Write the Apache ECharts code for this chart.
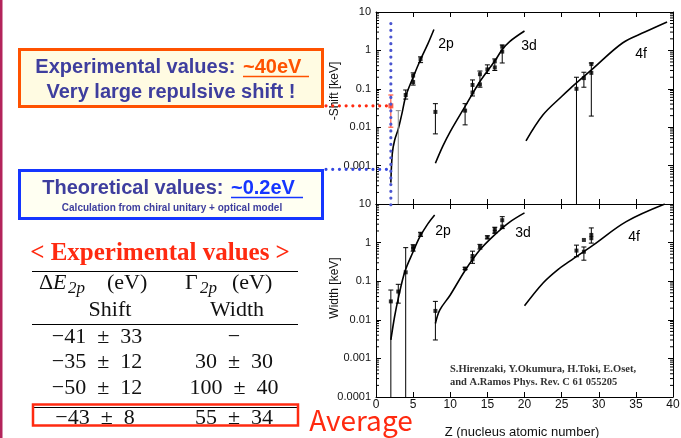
<!DOCTYPE html>
<html><head><meta charset="utf-8">
<script src="https://cdn.jsdelivr.net/npm/echarts@6/dist/echarts.min.js"></script>
<style>html,body{margin:0;padding:0;background:#fff}#c{width:681px;height:438px}</style>
</head><body><div id="c"></div>
<script>
// ---------------- data ----------------
const yTickLabels = ['0.0001', '0.001', '0.01', '0.1', '1', '10'];
const minorMult = [2, 3, 4, 5, 6, 7, 8, 9];
const minorDecades = [0.0001, 0.001, 0.01, 0.1, 1];

// Shift (upper panel): theory curves
const shift2pZ = [2, 2.2, 2.5, 3, 3.5, 4, 5, 6, 7, 7.8];
const shift2pV = [0.00036, 0.0021, 0.0045, 0.009, 0.023, 0.063, 0.2, 0.58, 1.5, 3.5];
const shift3dZ = [8, 9, 10, 12, 14, 16, 17, 18, 20];
const shift3dV = [0.00115, 0.0032, 0.0077, 0.035, 0.155, 0.53, 1.05, 1.7, 3.2];
const shift4fZ = [20.2, 22.5, 25, 26.1, 29.1, 33.2, 36.2, 39.2];
const shift4fV = [0.0044, 0.021, 0.063, 0.1, 0.32, 1.56, 3.0, 5.5];
// Shift data points [Z, value]
const shiftPts = [[4, 0.069], [5, 0.22], [5, 0.15], [6, 0.59], [8, 0.025],
  [12, 0.027], [13, 0.126], [13, 0.08], [14, 0.24], [14, 0.13], [15, 0.32], [16, 0.52], [16, 0.36], [17, 1.25], [17, 0.93],
  [27, 0.1], [28, 0.19], [29, 0.44], [29, 0.26]];
// Shift error bars [Z, low, high]  (low below axis = runs off the bottom)
const shiftErr = [[4, 0.054, 0.093], [5, 0.125, 0.26], [6, 0.48, 0.68], [8, 0.0067, 0.041],
  [12, 0.0115, 0.041], [13, 0.065, 0.17], [14, 0.11, 0.29], [15, 0.25, 0.42], [16, 0.3, 0.6], [17, 0.47, 1.38],
  [27, 0.00001, 0.2], [28, 0.11, 0.27], [29, 0.0195, 0.47]];
const shiftErrGray = [[3, 0.00001, 0.027]];
// highlighted experimental kaonic helium point
const expPt = [[2, 0.036]];
const expErr = [[2, 0.01, 0.069]];
const theoryShift = 0.0008;

// Width (lower panel)
const width2pZ = [2, 2.5, 3, 3.9, 5, 5.9, 7, 7.9];
const width2pV = [0.003, 0.012, 0.036, 0.18, 0.58, 1.4, 3.1, 5.2];
const width3dZ = [8, 8.6, 10, 12, 14, 16, 18, 20];
const width3dV = [0.008, 0.018, 0.044, 0.19, 0.65, 1.6, 3.4, 5.9];
const width4fZ = [20, 22.5, 24.5, 26.1, 29.2, 33.7, 38.9];
const width4fV = [0.023, 0.09, 0.2, 0.33, 0.85, 3.5, 10];
const widthPts = [[2, 0.03], [3, 0.054], [4, 0.17], [5, 0.78], [5, 0.68], [6, 1.64],
  [8, 0.017], [12, 0.21], [13, 0.45], [13, 0.37], [14, 0.78], [15, 1.37], [16, 2.25], [16, 1.9], [17, 3.8], [17, 2.6],
  [27, 0.62], [28, 1.17], [28, 0.58], [29, 1.58], [29, 1.3]];
const widthErr = [[2, 0.00001, 0.059], [3, 0.027, 0.083], [4, 0.00001, 0.74], [5, 0.6, 0.88], [6, 1.45, 1.85],
  [8, 0.003, 0.03], [12, 0.2, 0.23], [13, 0.29, 0.6], [14, 0.68, 0.9], [15, 1.25, 1.5], [16, 1.75, 2.5], [17, 2.3, 4.7],
  [27, 0.43, 0.86], [28, 0.35, 0.77], [29, 0.97, 2.4]];

// table
const tableTitle = '< Experimental values >';
const tableRows = [['\u221241\u2002\u00b1\u200233', '\u2212'], ['\u221235\u2002\u00b1\u200212', '30\u2002\u00b1\u200230'], ['\u221250\u2002\u00b1\u200212', '100\u2002\u00b1\u200240']];
const tableAvg = ['\u221243\u2002\u00b1\u20028', '55\u2002\u00b1\u200234'];

// ---------------- chart ----------------
const chart = echarts.init(document.getElementById('c'));
const pair = (zs, vs) => zs.map((z, i) => [z, vs[i]]);
const minorData = [];
minorDecades.forEach(d => minorMult.forEach(m => minorData.push([0, d * m])));

const AX = '#000';
function xAx(gi, pos, lab) {
  return { type: 'value', gridIndex: gi, position: pos, min: 0, max: 40, interval: 5,
    axisLine: { show: true, onZero: false, lineStyle: { color: AX, width: 1 } },
    axisTick: { show: true, inside: true, length: 5, lineStyle: { color: AX } },
    axisLabel: { show: lab, color: '#111', fontSize: 12, fontFamily: 'Liberation Sans, Arial', margin: 2, showMinLabel: true, showMaxLabel: true },
    splitLine: { show: false } };
}
function yAx(gi, pos, lab, hideMin) {
  return { type: 'log', logBase: 10, gridIndex: gi, position: pos, min: 0.0001, max: 10, splitNumber: 5,
    axisLine: { show: true, onZero: false, lineStyle: { color: AX, width: 1 } },
    axisTick: { show: true, inside: true, length: 5, lineStyle: { color: AX } },
    axisLabel: { show: lab, color: '#111', fontSize: 11, fontFamily: 'Liberation Sans, Arial', margin: 5, showMinLabel: true, showMaxLabel: true,
      formatter: v => { const e = Math.round(Math.log10(v)); if (hideMin && e === -4) return ''; return yTickLabels[e + 4]; } },
    splitLine: { show: false } };
}
function errRender(color) {
  return function (params, api) {
    const cs = params.coordSys;
    const z = api.value(0), lo = api.value(1), hi = api.value(2);
    const pH = api.coord([z, hi]), pL = api.coord([z, lo]);
    const top = cs.y, bot = cs.y + cs.height;
    const x = pH[0];
    const st = { stroke: color, lineWidth: 1 };
    const ch = [{ type: 'line', shape: { x1: x, y1: Math.max(top, pH[1]), x2: x, y2: Math.min(bot, pL[1]) }, style: st }];
    if (pH[1] >= top) ch.push({ type: 'line', shape: { x1: x - 2.5, y1: pH[1], x2: x + 2.5, y2: pH[1] }, style: st });
    if (pL[1] <= bot) ch.push({ type: 'line', shape: { x1: x - 2.5, y1: pL[1], x2: x + 2.5, y2: pL[1] }, style: st });
    return { type: 'group', children: ch };
  };
}
function minorRender(params, api) {
  const cs = params.coordSys;
  const p = api.coord([0, api.value(1)]);
  const st = { stroke: '#000', lineWidth: 1 };
  return { type: 'group', children: [
    { type: 'line', shape: { x1: cs.x, y1: p[1], x2: cs.x + 3, y2: p[1] }, style: st },
    { type: 'line', shape: { x1: cs.x + cs.width - 3, y1: p[1], x2: cs.x + cs.width, y2: p[1] }, style: st }] };
}
function curve(gi, zs, vs) {
  return { type: 'line', xAxisIndex: gi * 2, yAxisIndex: gi * 2, data: pair(zs, vs), smooth: 0.35, showSymbol: false,
    lineStyle: { color: '#000', width: 1.6 }, silent: true, animation: false, z: 3 };
}
function pts(gi, data, color, size) {
  return { type: 'scatter', xAxisIndex: gi * 2, yAxisIndex: gi * 2, data: data, symbol: 'rect', symbolSize: size,
    itemStyle: { color: color }, animation: false, z: 4 };
}
function errs(gi, data, color) {
  return { type: 'custom', xAxisIndex: gi * 2, yAxisIndex: gi * 2, data: data, renderItem: errRender(color), animation: false, z: 4 };
}
function minors(gi) {
  return { type: 'custom', xAxisIndex: gi * 2, yAxisIndex: gi * 2, data: minorData, renderItem: minorRender, animation: false, silent: true };
}

const PURP = '#3e3e9e', ORG = '#ff5200', BLU = '#1536ff', RED = '#ff2a10';
const sans = 'Liberation Sans, Arial, sans-serif';
const serif = 'Liberation Serif, Times New Roman, serif';
function txt(x, y, text, font, fill, align, extra) {
  return Object.assign({ type: 'text', x: x, y: y, silent: true,
    style: { text: text, font: font, fill: fill, align: align || 'center', verticalAlign: 'middle' } }, extra || {});
}
function hline(x1, x2, y, color, w) {
  return { type: 'line', silent: true, shape: { x1: x1, y1: y, x2: x2, y2: y }, style: { stroke: color, lineWidth: w || 1 } };
}

const graphics = [
  { type: 'rect', silent: true, shape: { x: 0, y: 0, width: 2.5, height: 438 }, style: { fill: '#b3245b' } },
  // orange box
  { type: 'rect', silent: true, shape: { x: 19.5, y: 49.5, width: 303, height: 57 }, style: { fill: '#fffbe2', stroke: ORG, lineWidth: 3 } },
  txt(241, 67, 'Experimental values: ', 'bold 20px ' + sans, PURP, 'right'),
  txt(243, 67, '~40eV', 'bold 20px ' + sans, ORG, 'left'),
  hline(243, 309, 76.5, ORG, 1.5),
  txt(171, 92, 'Very large repulsive shift !', 'bold 20px ' + sans, PURP),
  // blue box
  { type: 'rect', silent: true, shape: { x: 19.5, y: 170.5, width: 303, height: 48 }, style: { fill: '#fffff2', stroke: BLU, lineWidth: 3 } },
  txt(229, 188, 'Theoretical values: ', 'bold 20px ' + sans, PURP, 'right'),
  txt(231, 188, '~0.2eV', 'bold 20px ' + sans, BLU, 'left'),
  hline(231, 303, 197.5, BLU, 1.5),
  txt(172, 208, 'Calculation from chiral unitary + optical model', 'bold 10px ' + sans, PURP),
  // table
  txt(160, 254, tableTitle, 'bold 25px ' + serif, RED),
  hline(32, 298, 271.5, '#000', 1),
  txt(39, 283, '\u0394', '22px ' + serif, '#111', 'left'),
  txt(53, 283, 'E', 'italic 22px ' + serif, '#111', 'left'),
  txt(68, 289, '2p', 'italic 17px ' + serif, '#111', 'left'),
  txt(107, 283, '(eV)', '22px ' + serif, '#111', 'left'),
  txt(185, 283, '\u0393', '22px ' + serif, '#111', 'left'),
  txt(200, 289, '2p', 'italic 17px ' + serif, '#111', 'left'),
  txt(232, 283, '(eV)', '22px ' + serif, '#111', 'left'),
  txt(110, 310, 'Shift', '22px ' + serif, '#111'),
  txt(237, 310, 'Width', '22px ' + serif, '#111'),
  hline(32, 298, 324.5, '#000', 1),
  txt(97, 337, tableRows[0][0], '22px ' + serif, '#111'),
  txt(234, 337, tableRows[0][1], '22px ' + serif, '#111'),
  txt(97, 362, tableRows[1][0], '22px ' + serif, '#111'),
  txt(234, 362, tableRows[1][1], '22px ' + serif, '#111'),
  txt(97, 388, tableRows[2][0], '22px ' + serif, '#111'),
  txt(234, 388, tableRows[2][1], '22px ' + serif, '#111'),
  hline(34, 297, 407.5, '#000', 1),
  { type: 'rect', silent: true, shape: { x: 33, y: 404.5, width: 265, height: 21 }, style: { fill: null, stroke: RED, lineWidth: 2.5 } },
  txt(95, 418, tableAvg[0], '22px ' + serif, '#111'),
  txt(234, 418, tableAvg[1], '22px ' + serif, '#111'),
  txt(361, 420, 'Average', '28px "Noto Sans CJK JP", "Noto Sans", sans-serif', RED),
  // axis names
  txt(335, 91, '-Shift [keV]', '12px ' + sans, '#111', 'center', { rotation: Math.PI / 2 }),
  txt(335, 288, 'Width [keV]', '12px ' + sans, '#111', 'center', { rotation: Math.PI / 2 }),
  txt(522, 432, 'Z (nucleus atomic number)', '13px ' + sans, '#111'),
  // curve labels
  txt(446, 44, '2p', '14px ' + sans, '#000'),
  txt(529, 46, '3d', '14px ' + sans, '#000'),
  txt(641, 54, '4f', '14px ' + sans, '#000'),
  txt(443, 231, '2p', '14px ' + sans, '#000'),
  txt(523, 233, '3d', '14px ' + sans, '#000'),
  txt(634, 237, '4f', '14px ' + sans, '#000'),
  // reference
  txt(450, 369, 'S.Hirenzaki, Y.Okumura, H.Toki, E.Oset,', 'bold 10.5px ' + serif, '#333', 'left'),
  txt(450, 382, 'and A.Ramos Phys. Rev. C 61 055205', 'bold 10.5px ' + serif, '#333', 'left')
];

const option = {
  backgroundColor: '#fff',
  animation: false,
  grid: [
    { left: 376, top: 12, width: 297, height: 192, show: false, containLabel: false, outerBoundsMode: 'none' },
    { left: 376, top: 204, width: 297, height: 193, show: false, containLabel: false, outerBoundsMode: 'none' }
  ],
  xAxis: [xAx(0, 'bottom', false), xAx(0, 'top', false), xAx(1, 'bottom', true), xAx(1, 'top', false)],
  yAxis: [yAx(0, 'left', true, true), yAx(0, 'right', false, false), yAx(1, 'left', true, false), yAx(1, 'right', false, false)],
  series: [
    minors(0), minors(1),
    curve(0, shift2pZ, shift2pV), curve(0, shift3dZ, shift3dV), curve(0, shift4fZ, shift4fV),
    errs(0, shiftErr, '#000'), errs(0, shiftErrGray, '#8a8a8a'), pts(0, shiftPts, '#000', 4),
    errs(0, expErr, '#ff3b1f'), pts(0, expPt, '#ff3b1f', 5),
    curve(1, width2pZ, width2pV), curve(1, width3dZ, width3dV), curve(1, width4fZ, width4fV),
    errs(1, widthErr, '#000'), pts(1, widthPts, '#000', 4)
  ],
  graphic: graphics
};
chart.setOption(option);

// dotted guide lines anchored to data
const pExp = chart.convertToPixel({ gridIndex: 0 }, expPt[0]);
const pTh = chart.convertToPixel({ gridIndex: 0 }, [2, theoryShift]);
const pTop = chart.convertToPixel({ gridIndex: 0 }, [2, 5]);
const pBot = chart.convertToPixel({ gridIndex: 0 }, [2, 0.000115]);
const dot = (c) => ({ stroke: c, lineWidth: 3.2, lineDash: [0.01, 6.7], lineCap: 'round' });
graphics.push(
  { type: 'line', silent: true, z: 10, shape: { x1: 326, y1: pExp[1], x2: pExp[0] - 2, y2: pExp[1] }, style: dot('#ff2a10') },
  { type: 'line', silent: true, z: 10, shape: { x1: 326, y1: pTh[1], x2: pTh[0], y2: pTh[1] }, style: dot('#3548e0') },
  { type: 'line', silent: true, z: 10, shape: { x1: pTop[0], y1: pTop[1], x2: pBot[0], y2: pBot[1] + 6 }, style: dot('#4a55d0') }
);
chart.setOption({ graphic: graphics });
</script>
</body></html>
